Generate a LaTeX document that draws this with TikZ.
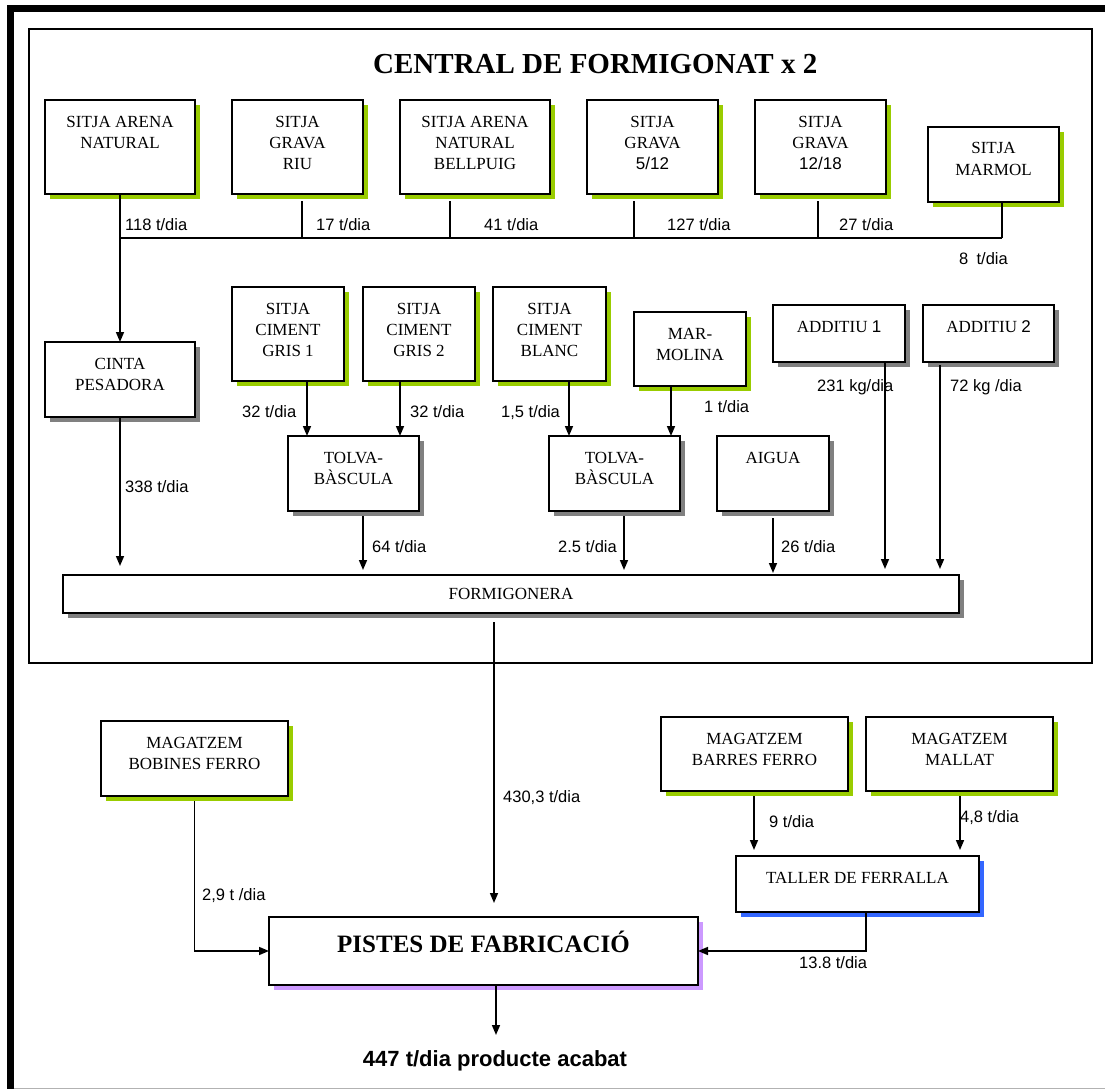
\documentclass[tikz,border=0pt]{standalone}
\usepackage{fontspec}
\setmainfont{Liberation Serif}
\newfontfamily\arial{Liberation Sans}
\usetikzlibrary{shadows,arrows.meta}

\definecolor{shgreen}{HTML}{99CC00}
\definecolor{shgray}{HTML}{808080}
\definecolor{shpurple}{HTML}{CC99FF}
\definecolor{shblue}{HTML}{3366FF}

\tikzset{
  box/.style={draw, line width=1.6pt, fill=white, inner sep=0pt, outer sep=0pt,
    anchor=north west, font=\fontsize{17}{21}\selectfont},
  greenshadow/.style={drop shadow={shadow xshift=5pt, shadow yshift=-5pt, fill=shgreen, opacity=1}},
  grayshadow/.style={drop shadow={shadow xshift=5pt, shadow yshift=-5pt, fill=shgray, opacity=1}},
  purpleshadow/.style={drop shadow={shadow xshift=5pt, shadow yshift=-5pt, fill=shpurple, opacity=1}},
  blueshadow/.style={drop shadow={shadow xshift=5pt, shadow yshift=-5pt, fill=shblue, opacity=1}},
  flow/.style={line width=1.6pt},
  arr/.style={flow, -{Triangle[length=10pt,width=8pt]}},
  qty/.style={font=\arial\fontsize{16.5}{18}\selectfont, inner sep=0pt, anchor=west,
    text height=12pt, text depth=0pt},
}

% box with top-aligned centred text: name, x, y, width, height, shadow, text
\newcommand\tbox[7]{%
  \node[box,#6,minimum width=#4pt,minimum height=#5pt] (#1) at (#2,#3)
    {\parbox[c][#5pt][t]{#4pt}{\centering\rule{0pt}{27pt}#7}};}

\begin{document}
\begin{tikzpicture}[x=1pt,y=-1pt]
\useasboundingbox (0,0) rectangle (1105,1089);

% page frame
\fill (7,5) rectangle (1105,12.5);
\fill (7,5) rectangle (13.5,1089);
\draw[black!30, line width=1pt] (13.5,1088) -- (1105,1088);

% concrete plant frame
\draw[line width=1.5pt] (29,29) rectangle (1092,663);
\node[font=\bfseries\fontsize{29}{32}\selectfont, anchor=west, inner sep=0pt] (title) at (373,64)
  {CENTRAL DE FORMIGONAT x 2};

% aggregate silos
\tbox{an}{45}{100}{150}{94}{greenshadow}{SITJA ARENA\\NATURAL}
\tbox{riu}{232}{100}{131}{94}{greenshadow}{SITJA\\GRAVA\\RIU}
\tbox{bell}{400}{100}{150}{94}{greenshadow}{SITJA ARENA\\NATURAL\\BELLPUIG}
\tbox{g512}{587}{100}{131}{94}{greenshadow}{SITJA\\GRAVA\\{\arial 5/12}}
\tbox{g1218}{755}{100}{131}{94}{greenshadow}{SITJA\\GRAVA\\{\arial 12/18}}
\tbox{marmol}{928}{127}{131}{75}{greenshadow}{SITJA\\MARMOL}

% weighing and cement
\tbox{cinta}{45}{342}{150}{75}{grayshadow}{CINTA\\PESADORA}
\tbox{gris1}{232}{287}{112}{94}{greenshadow}{SITJA\\CIMENT\\GRIS 1}
\tbox{gris2}{363}{287}{112}{94}{greenshadow}{SITJA\\CIMENT\\GRIS 2}
\tbox{blanc}{493}{287}{113}{94}{greenshadow}{SITJA\\CIMENT\\BLANC}
\tbox{marmolina}{634}{312}{112}{74}{greenshadow}{MAR-\\MOLINA}
\tbox{add1}{773}{305}{132}{57}{grayshadow}{ADDITIU {\arial 1}}
\tbox{add2}{923}{305}{131}{57}{grayshadow}{ADDITIU {\arial 2}}
\tbox{tolva1}{288}{436}{131}{75}{grayshadow}{TOLVA-\\BÀSCULA}
\tbox{tolva2}{549}{436}{131}{75}{grayshadow}{TOLVA-\\BÀSCULA}
\tbox{aigua}{717}{436}{112}{75}{grayshadow}{AIGUA}

% mixer
\node[box,grayshadow,minimum width=896pt,minimum height=38pt] (formig) at (63,575) {FORMIGONERA};

% steel stores and production
\tbox{bobines}{101}{721}{187}{75}{greenshadow}{MAGATZEM\\BOBINES FERRO}
\tbox{barres}{661}{717}{187}{74}{greenshadow}{MAGATZEM\\BARRES FERRO}
\tbox{mallat}{866}{717}{187}{74}{greenshadow}{MAGATZEM\\MALLAT}
\tbox{taller}{736}{856}{243}{56}{blueshadow}{TALLER DE FERRALLA}
\node[box,purpleshadow,minimum width=429pt,minimum height=68pt,font=\bfseries\fontsize{25}{28}\selectfont] (pistes) at (269,917)
  {\parbox[c][68pt][t]{429pt}{\centering\rule{0pt}{35pt}PISTES DE FABRICACIÓ}};

% aggregate collector
\coordinate (j0) at (120,238);
\coordinate (j1) at (302,238);
\coordinate (j2) at (450,238);
\coordinate (j3) at (634,238);
\coordinate (j4) at (818,238);
\coordinate (j5) at (1002,238);
\draw[flow] (j0) -- (j5);
\draw[flow,shorten >=7pt] (j1) -- (j1 |- riu.south);
\draw[flow,shorten >=7pt] (j2) -- (j2 |- bell.south);
\draw[flow,shorten >=7pt] (j3) -- (j3 |- g512.south);
\draw[flow,shorten >=7pt] (j4) -- (j4 |- g1218.south);
\draw[flow] (j5) -- (j5 |- marmol.south);
\draw[arr] (an.south) -- (cinta.north);

\node[qty] (q1) at (125,224) {118 t/dia};
\node[qty] (q2) at (316,224) {17 t/dia};
\node[qty] (q3) at (484,224) {41 t/dia};
\node[qty] (q4) at (667,224) {127 t/dia};
\node[qty] (q5) at (839,224) {27 t/dia};
\node[qty] (q6) at (959,258) {8\enspace t/dia};

% cement and additives into the hoppers and mixer
\coordinate (k1) at (307,436);
\coordinate (k2) at (400,436);
\coordinate (k3) at (569,436);
\coordinate (k4) at (671,436);
\draw[arr] (k1 |- gris1.south) -- (k1);
\draw[arr] (k2 |- gris2.south) -- (k2);
\draw[arr] (k3 |- blanc.south) -- (k3);
\draw[arr] (k4 |- marmolina.south) -- (k4);
\node[qty] (q7) at (242,411) {32 t/dia};
\node[qty] (q8) at (410,411) {32 t/dia};
\node[qty] (q9) at (501,411) {1,5 t/dia};
\node[qty] (q10) at (704,406) {1 t/dia};
\node[qty] (q11) at (817,385) {231 kg/dia};
\node[qty] (q12) at (950,385) {72 kg /dia};

\coordinate (m0) at (120,575);
\coordinate (m1) at (363,575);
\coordinate (m2) at (624,575);
\coordinate (m3) at (773,575);
\coordinate (m4) at (885,575);
\coordinate (m5) at (940,575);
\draw[arr,shorten >=9pt] (cinta.south) -- (m0);
\draw[arr,shorten <=5pt,shorten >=5pt] (m1 |- tolva1.south) -- (m1);
\draw[arr,shorten <=5pt,shorten >=5pt] (m2 |- tolva2.south) -- (m2);
\draw[arr,shorten <=7pt,shorten >=2pt] (m3 |- aigua.south) -- (m3);
\draw[arr,shorten >=6pt] (m4 |- add1.south) -- (m4);
\draw[arr,shorten <=3pt,shorten >=6pt] (m5 |- add2.south) -- (m5);
\node[qty] (q13) at (125,486) {338 t/dia};
\node[qty] (q14) at (372,546) {64 t/dia};
\node[qty, anchor=east] (q15) at (617,546) {2.5 t/dia};
\node[qty] (q16) at (781,546) {26 t/dia};

% concrete, steel and finished product
\coordinate (p0) at (494,917);
\draw[arr,shorten <=9pt,shorten >=14pt] (p0 |- formig.south) -- (p0);
\node[qty] (q17) at (503,796) {430,3 t/dia};

\draw[arr,shorten <=5pt] (bobines.south) -- (bobines.south |- pistes.west) -- (pistes.west);
\node[qty] (q18) at (202,894) {2,9 t /dia};

\coordinate (f1) at (754,856);
\coordinate (f2) at (960,856);
\draw[arr,shorten <=5pt,shorten >=6pt] (f1 |- barres.south) -- (f1);
\draw[arr,shorten <=5pt,shorten >=6pt] (f2 |- mallat.south) -- (f2);
\node[qty] (q19) at (769,821) {9 t/dia};
\node[qty] (q20) at (960,816) {4,8 t/dia};

\coordinate (tp) at (866,951);
\draw[arr] (tp |- taller.south) -- (tp) -- (pistes.east);
\node[qty] (q21) at (799,962) {13.8 t/dia};

\coordinate (o1) at (496,1035);
\draw[arr] (o1 |- pistes.south) -- (o1);
\node[font=\arial\bfseries\fontsize{22}{24}\selectfont, inner sep=0pt] (out) at (495,1061)
  {447 t/dia producte acabat};
\end{tikzpicture}
\end{document}
